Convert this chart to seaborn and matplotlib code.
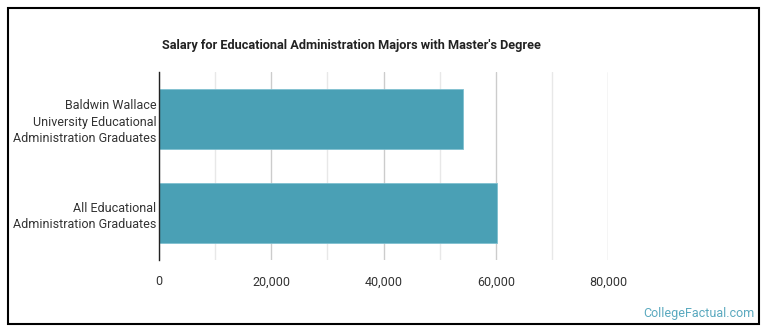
import matplotlib
matplotlib.use('Agg')
import matplotlib.pyplot as plt
import seaborn as sns
import pandas as pd
from matplotlib.ticker import FuncFormatter, MultipleLocator
from matplotlib.patches import Rectangle

sns.set_style('white')
plt.rcParams['font.family'] = ['Roboto', 'DejaVu Sans']

# Data
groups = ['Baldwin Wallace\nUniversity Educational\nAdministration Graduates',
          'All Educational\nAdministration Graduates']
salaries = [54200, 60250]
title = "Salary for Educational Administration Majors with Master's Degree"

df = pd.DataFrame({'group': groups, 'salary': salaries})

fig = plt.figure(figsize=(7.7, 3.35), dpi=100)
ax = fig.add_axes([159 / 770, 1 - 260 / 335, 449 / 770, 188 / 335])

sns.barplot(data=df, x='salary', y='group', orient='h', color='#4aa0b5',
            saturation=1, width=0.64, edgecolor='#7fc0d0', linewidth=0.6, ax=ax)

ax.set_xlim(0, 80000)
ax.set_ylim(1.5, -0.5)
ax.xaxis.set_major_locator(MultipleLocator(20000))
ax.xaxis.set_minor_locator(MultipleLocator(10000))
ax.xaxis.set_major_formatter(FuncFormatter(lambda v, p: f'{int(v):,}'))
ax.grid(which='major', axis='x', color='#cccccc', linewidth=1)
ax.grid(which='minor', axis='x', color='#e8e8e8', linewidth=1)
ax.set_axisbelow(True)
ax.set_xlabel('')
ax.set_ylabel('')
for s in ['top', 'right', 'bottom']:
    ax.spines[s].set_visible(False)
ax.spines['left'].set_color('#222222')
ax.spines['left'].set_linewidth(1)
ax.tick_params(axis='both', length=0, labelsize=9, colors='#333333')
ax.tick_params(axis='x', pad=11)
ax.tick_params(axis='y', pad=2)
for lbl in ax.get_yticklabels():
    lbl.set_linespacing(1.35)

fig.text(162 / 770, 1 - 45 / 335, title, fontsize=9.2, fontweight='bold',
         color='#222222', va='center', ha='left')
fig.text(755 / 770, 1 - 313 / 335, 'CollegeFactual.com', fontsize=9,
         color='#5aa9bf', va='center', ha='right')

fig.patches.append(Rectangle((8 / 770, 1 - 324 / 335), 751 / 770, 316 / 335,
                             transform=fig.transFigure, fill=False,
                             edgecolor='black', linewidth=1.5))

fig.savefig('out.png', dpi=100)
